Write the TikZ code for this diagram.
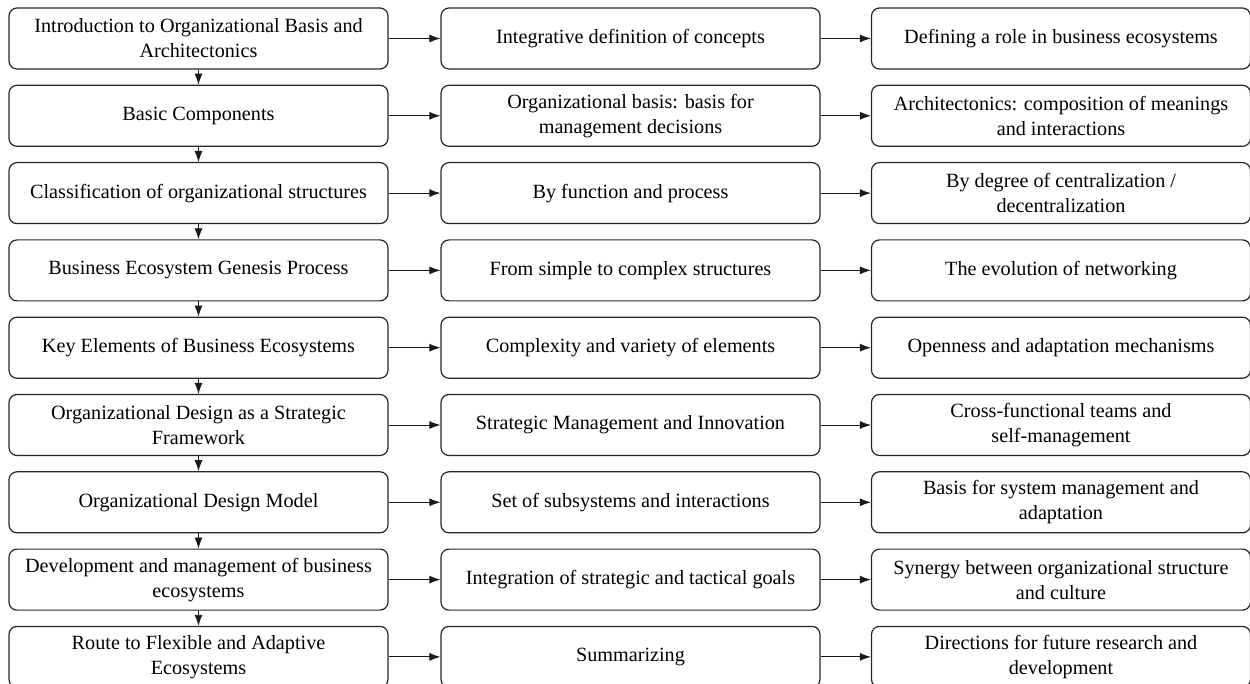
\documentclass[tikz,border=0pt]{standalone}
\usepackage{fontspec}
\setmainfont{Liberation Serif}
\usetikzlibrary{arrows.meta}
\begin{document}
\begin{tikzpicture}[x=1pt,y=-1pt,line join=round,>={Latex[length=11pt,width=8pt]}]
			\tikzset{box/.style={draw=black!85,line width=1.2pt,rounded corners=8pt,minimum width=379pt,minimum height=61pt,inner sep=0pt,align=center,font=\fontsize{20.2}{25}\selectfont}}
			\tikzset{link/.style={->,line width=0.9pt,black!90}}
			\useasboundingbox (0,0) rectangle (1250,684);
			% left column: main stages
			\node[box] (a1) at (198.5,38.5) {Introduction to Organizational Basis and\\Architectonics};
			\node[box] (a2) at (198.5,115.8) {Basic Components};
			\node[box] (a3) at (198.5,193.1) {Classification of organizational structures};
			\node[box] (a4) at (198.5,270.4) {Business Ecosystem Genesis Process};
			\node[box] (a5) at (198.5,347.7) {Key Elements of Business Ecosystems};
			\node[box] (a6) at (198.5,425) {Organizational Design as a Strategic\\Framework};
			\node[box] (a7) at (198.5,502.3) {Organizational Design Model};
			\node[box] (a8) at (198.5,579.6) {Development and management of business\\ecosystems};
			\node[box] (a9) at (198.5,656.9) {Route to Flexible and Adaptive\\Ecosystems};
			% middle column
			\node[box] (b1) at (630.5,38.5) {Integrative definition of concepts};
			\node[box] (b2) at (630.5,115.8) {Organizational basis: basis for\\management decisions};
			\node[box] (b3) at (630.5,193.1) {By function and process};
			\node[box] (b4) at (630.5,270.4) {From simple to complex structures};
			\node[box] (b5) at (630.5,347.7) {Complexity and variety of elements};
			\node[box] (b6) at (630.5,425) {Strategic Management and Innovation};
			\node[box] (b7) at (630.5,502.3) {Set of subsystems and interactions};
			\node[box] (b8) at (630.5,579.6) {Integration of strategic and tactical goals};
			\node[box] (b9) at (630.5,656.9) {Summarizing};
			% right column
			\begin{scope}[every node/.append style={minimum width=375pt}]
				\node[box] (c1) at (1061,38.5) {Defining a role in business ecosystems};
				\node[box] (c2) at (1061,115.8) {Architectonics: composition of meanings\\and interactions};
				\node[box] (c3) at (1061,193.1) {By degree of centralization /\\decentralization};
				\node[box] (c4) at (1061,270.4) {The evolution of networking};
				\node[box] (c5) at (1061,347.7) {Openness and adaptation mechanisms};
				\node[box] (c6) at (1061,425) {Cross-functional teams and\\self-management};
				\node[box] (c7) at (1061,502.3) {Basis for system management and\\adaptation};
				\node[box] (c8) at (1061,579.6) {Synergy between organizational structure\\and culture};
				\node[box] (c9) at (1061,656.9) {Directions for future research and\\development};
			\end{scope}
			% rows left to right
			\foreach \i in {1,...,9} {
				\draw[link] (a\i) -- (b\i);
				\draw[link] (b\i) -- (c\i);
			}
			% stages top to bottom
			\foreach \i/\j in {1/2,2/3,3/4,4/5,5/6,6/7,7/8,8/9}
				\draw[link] (a\i) -- (a\j);
		\end{tikzpicture}
\end{document}
